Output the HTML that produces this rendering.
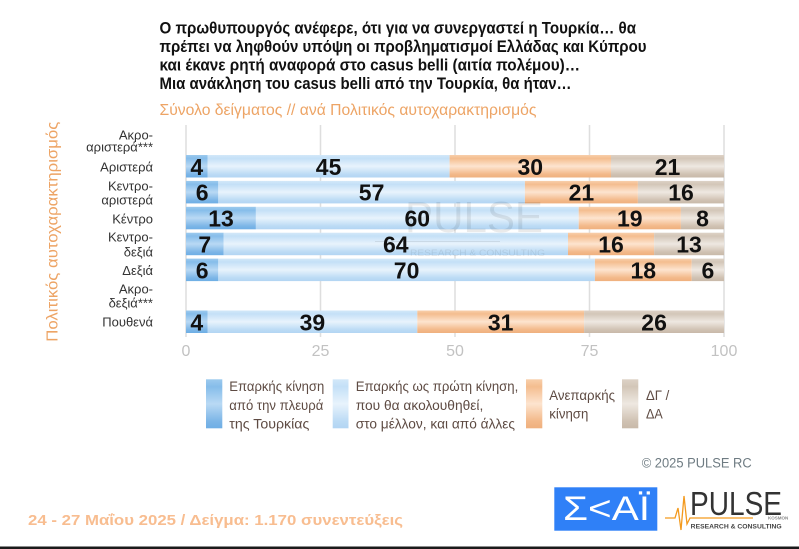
<!DOCTYPE html>
<html><head><meta charset="utf-8"><style>
html,body{margin:0;padding:0;background:#fff;}
svg{display:block;}
</style></head><body>
<svg width="799" height="549" viewBox="0 0 799 549" xmlns="http://www.w3.org/2000/svg" font-family="'Liberation Sans', 'Noto Sans CJK JP', sans-serif">
<defs>
<linearGradient id="gD" x1="0" y1="0" x2="0" y2="1">
<stop offset="0" stop-color="#9ccaee"/><stop offset="0.15" stop-color="#86bdea"/><stop offset="0.5" stop-color="#b9d9f4"/><stop offset="0.85" stop-color="#7db6e7"/><stop offset="1" stop-color="#6eaee5"/>
</linearGradient>
<linearGradient id="gL" x1="0" y1="0" x2="0" y2="1">
<stop offset="0" stop-color="#d3e8f9"/><stop offset="0.15" stop-color="#c4e0f7"/><stop offset="0.5" stop-color="#e8f3fc"/><stop offset="0.85" stop-color="#bcdbf5"/><stop offset="1" stop-color="#b2d5f3"/>
</linearGradient>
<linearGradient id="gO" x1="0" y1="0" x2="0" y2="1">
<stop offset="0" stop-color="#f8cfab"/><stop offset="0.15" stop-color="#f4bd8f"/><stop offset="0.5" stop-color="#fde4cf"/><stop offset="0.85" stop-color="#f3b98a"/><stop offset="1" stop-color="#efb07e"/>
</linearGradient>
<linearGradient id="gT" x1="0" y1="0" x2="0" y2="1">
<stop offset="0" stop-color="#ddd2c6"/><stop offset="0.15" stop-color="#d3c6b8"/><stop offset="0.5" stop-color="#eee8e1"/><stop offset="0.85" stop-color="#d0c2b3"/><stop offset="1" stop-color="#c8b9a9"/>
</linearGradient>
</defs>
<rect width="799" height="549" fill="#fff"/>

<!-- Title -->
<g font-weight="bold" font-size="16.5" fill="#111">
<text x="159.5" y="33.3" textLength="476.5" lengthAdjust="spacingAndGlyphs">Ο πρωθυπουργός ανέφερε, ότι για να συνεργαστεί η Τουρκία… θα</text>
<text x="159.5" y="51.9" textLength="487" lengthAdjust="spacingAndGlyphs">πρέπει να ληφθούν υπόψη οι προβληματισμοί Ελλάδας και Κύπρου</text>
<text x="159.5" y="70.5" textLength="420.5" lengthAdjust="spacingAndGlyphs">και έκανε ρητή αναφορά στο casus belli (αιτία πολέμου)…</text>
<text x="159.5" y="89.1" textLength="412" lengthAdjust="spacingAndGlyphs">Μια ανάκληση του casus belli από την Τουρκία, θα ήταν…</text>
</g>
<text x="159.5" y="115" font-size="16" fill="#eda465" textLength="377" lengthAdjust="spacingAndGlyphs">Σύνολο δείγματος // ανά Πολιτικός αυτοχαρακτηρισμός</text>

<!-- Y axis title -->
<text transform="translate(57.5,231.7) rotate(-90)" text-anchor="middle" font-size="16" fill="#eda465" textLength="220" lengthAdjust="spacingAndGlyphs">Πολιτικός αυτοχαρακτηρισμός</text>

<!-- Gridlines -->
<g stroke="#dedede" stroke-width="1.5">
<line x1="186" y1="125" x2="186" y2="337"/>
<line x1="320.5" y1="125" x2="320.5" y2="337"/>
<line x1="455" y1="125" x2="455" y2="337"/>
<line x1="589.5" y1="125" x2="589.5" y2="337"/>
<line x1="724" y1="125" x2="724" y2="337"/>
</g>

<!-- Category labels -->
<g font-size="13" fill="#333" text-anchor="end">
<text x="153" y="139.5">Ακρο-</text>
<text x="153" y="151.5">αριστερά***</text>
<text x="153" y="171.5">Αριστερά</text>
<text x="153" y="190.5">Κεντρο-</text>
<text x="153" y="204.5">αριστερά</text>
<text x="153" y="223.5">Κέντρο</text>
<text x="153" y="241.5">Κεντρο-</text>
<text x="153" y="256.5">δεξιά</text>
<text x="153" y="275">Δεξιά</text>
<text x="153" y="293.5">Ακρο-</text>
<text x="153" y="307.5">δεξιά***</text>
<text x="153" y="326.5">Πουθενά</text>
</g>

<!-- Bars -->
<g>
<rect x="186" y="155" width="21.5" height="22.5" fill="url(#gD)"/>
<rect x="207.5" y="155" width="242.1" height="22.5" fill="url(#gL)"/>
<rect x="449.6" y="155" width="161.4" height="22.5" fill="url(#gO)"/>
<rect x="611" y="155" width="113" height="22.5" fill="url(#gT)"/>

<rect x="186" y="180.9" width="32.3" height="22.5" fill="url(#gD)"/>
<rect x="218.3" y="180.9" width="306.6" height="22.5" fill="url(#gL)"/>
<rect x="524.9" y="180.9" width="113" height="22.5" fill="url(#gO)"/>
<rect x="637.9" y="180.9" width="86.1" height="22.5" fill="url(#gT)"/>

<rect x="186" y="206.8" width="69.9" height="22.5" fill="url(#gD)"/>
<rect x="255.9" y="206.8" width="322.8" height="22.5" fill="url(#gL)"/>
<rect x="578.7" y="206.8" width="102.2" height="22.5" fill="url(#gO)"/>
<rect x="680.9" y="206.8" width="43.1" height="22.5" fill="url(#gT)"/>

<rect x="186" y="232.7" width="37.7" height="22.5" fill="url(#gD)"/>
<rect x="223.7" y="232.7" width="344.3" height="22.5" fill="url(#gL)"/>
<rect x="568" y="232.7" width="86.1" height="22.5" fill="url(#gO)"/>
<rect x="654.1" y="232.7" width="69.9" height="22.5" fill="url(#gT)"/>

<rect x="186" y="258.6" width="32.3" height="22.5" fill="url(#gD)"/>
<rect x="218.3" y="258.6" width="376.6" height="22.5" fill="url(#gL)"/>
<rect x="594.9" y="258.6" width="96.8" height="22.5" fill="url(#gO)"/>
<rect x="691.7" y="258.6" width="32.3" height="22.5" fill="url(#gT)"/>

<rect x="186" y="310.5" width="21.5" height="22.5" fill="url(#gD)"/>
<rect x="207.5" y="310.5" width="209.8" height="22.5" fill="url(#gL)"/>
<rect x="417.3" y="310.5" width="166.8" height="22.5" fill="url(#gO)"/>
<rect x="584.1" y="310.5" width="139.9" height="22.5" fill="url(#gT)"/>
</g>

<!-- Watermark -->
<g opacity="0.08" fill="#000">
<text x="405" y="232" font-size="44" textLength="138" lengthAdjust="spacingAndGlyphs">PULSE</text>
<text x="410" y="256" font-size="9" textLength="135" lengthAdjust="spacingAndGlyphs">RESEARCH &amp; CONSULTING</text>
<line x1="375" y1="241.5" x2="500" y2="241.5" stroke="#000" stroke-width="1"/>
</g>

<!-- Value labels -->
<g font-weight="bold" font-size="23" fill="#111" text-anchor="middle">
<text x="196.8" y="174.8">4</text>
<text x="328.6" y="174.8">45</text>
<text x="530.3" y="174.8">30</text>
<text x="667.5" y="174.8">21</text>

<text x="202.1" y="200.7">6</text>
<text x="371.6" y="200.7">57</text>
<text x="581.4" y="200.7">21</text>
<text x="681" y="200.7">16</text>

<text x="221" y="226.6">13</text>
<text x="417.3" y="226.6">60</text>
<text x="629.8" y="226.6">19</text>
<text x="702.5" y="226.6">8</text>

<text x="204.8" y="252.5">7</text>
<text x="395.8" y="252.5">64</text>
<text x="611" y="252.5">16</text>
<text x="689" y="252.5">13</text>

<text x="202.1" y="278.4">6</text>
<text x="406.6" y="278.4">70</text>
<text x="643.3" y="278.4">18</text>
<text x="707.9" y="278.4">6</text>

<text x="196.8" y="330.3">4</text>
<text x="312.4" y="330.3">39</text>
<text x="500.7" y="330.3">31</text>
<text x="654.1" y="330.3">26</text>
</g>

<!-- Tick labels -->
<g font-size="16" fill="#c2c2c2" text-anchor="middle">
<text x="186" y="356">0</text>
<text x="320.5" y="356">25</text>
<text x="455" y="356">50</text>
<text x="589.5" y="356">75</text>
<text x="724" y="356">100</text>
</g>

<!-- Legend -->
<rect x="206" y="379.3" width="16.3" height="49" fill="url(#gD)"/>
<rect x="332.7" y="379.3" width="15.8" height="49" fill="url(#gL)"/>
<rect x="526" y="379.3" width="16.3" height="49" fill="url(#gO)"/>
<rect x="622" y="379.3" width="16.3" height="49" fill="url(#gT)"/>
<g font-size="14" fill="#5e4b43">
<text x="229.3" y="391" textLength="95" lengthAdjust="spacingAndGlyphs">Επαρκής κίνηση</text>
<text x="229.3" y="410" textLength="94" lengthAdjust="spacingAndGlyphs">από την πλευρά</text>
<text x="229.3" y="428.5" textLength="80" lengthAdjust="spacingAndGlyphs">της Τουρκίας</text>
<text x="355.7" y="391" textLength="162.6" lengthAdjust="spacingAndGlyphs">Επαρκής ως πρώτη κίνηση,</text>
<text x="355.7" y="410" textLength="127.6" lengthAdjust="spacingAndGlyphs">που θα ακολουθηθεί,</text>
<text x="355.7" y="428.5" textLength="159.3" lengthAdjust="spacingAndGlyphs">στο μέλλον, και από άλλες</text>
<text x="549.3" y="400" textLength="65.7" lengthAdjust="spacingAndGlyphs">Ανεπαρκής</text>
<text x="549.3" y="418.5" textLength="39" lengthAdjust="spacingAndGlyphs">κίνηση</text>
<text x="646" y="400" textLength="23.3" lengthAdjust="spacingAndGlyphs">ΔΓ /</text>
<text x="646" y="418.5" textLength="16.7" lengthAdjust="spacingAndGlyphs">ΔΑ</text>
</g>

<!-- Footer -->
<text x="641.7" y="467.5" font-size="13.5" fill="#6e7b82" textLength="110" lengthAdjust="spacingAndGlyphs">©  2025  PULSE RC</text>
<text x="28" y="525" font-size="15" font-weight="bold" fill="#f8bd90" textLength="375" lengthAdjust="spacingAndGlyphs">24 - 27 Μαΐου 2025  /  Δείγμα:  1.170 συνεντεύξεις</text>

<!-- SKAI logo -->
<rect x="554.3" y="487.3" width="103" height="43.4" fill="#2f80f7"/>
<text x="563" y="520" font-size="34" fill="#fff" textLength="87" lengthAdjust="spacingAndGlyphs">Σ&lt;ΑΪ</text>

<!-- PULSE logo -->
<text x="690" y="515" font-size="33" fill="#333" textLength="92" lengthAdjust="spacingAndGlyphs">PULSE</text>
<polyline points="665,518 675,518 678,508 681,530 684,496 687,524 690,518 753,518" fill="none" stroke="#f39a1e" stroke-width="1.3"/>
<text x="768" y="519.5" font-size="4.5" fill="#888" font-weight="bold">KOSMON</text>
<text x="690.7" y="528.5" font-size="6.5" font-weight="bold" fill="#444" textLength="91" lengthAdjust="spacingAndGlyphs">RESEARCH &amp; CONSULTING</text>

<!-- Bottom bar -->
<rect x="0" y="546.5" width="799" height="2.5" fill="#1a1a1a"/>
</svg>
</body></html>
